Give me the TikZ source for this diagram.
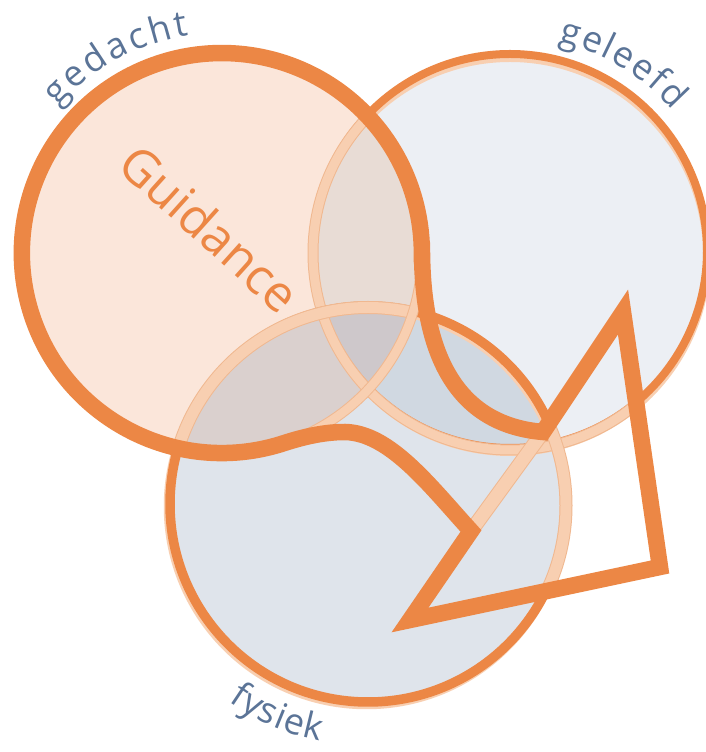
\documentclass[tikz,border=0pt]{standalone}
\usepackage{fontspec}
\setmainfont{Open Sans}
\definecolor{org}{HTML}{EC8745}
\definecolor{pch}{HTML}{F8CFB1}
\definecolor{pchd}{HTML}{F0B890}
\definecolor{fA}{HTML}{FBE6DA}
\definecolor{fB}{HTML}{ECEFF4}
\definecolor{fC}{HTML}{DFE4EB}
\definecolor{fAB}{HTML}{E8DCD5}
\definecolor{fAC}{HTML}{DAD0CE}
\definecolor{fBC}{HTML}{D0D8E1}
\definecolor{fABC}{HTML}{CEC8CB}
\definecolor{lbl}{HTML}{5B7497}
\newcommand\PA{(222,499) circle[radius=200]}
\newcommand\PB{(510,501) circle[radius=197]}
\newcommand\PC{(368,248) circle[radius=198]}
\newcommand\PArrow{(543,320) -- (471,221) -- (410,132) -- (660,185) -- (623,440) -- cycle}
\begin{document}
\begin{tikzpicture}[x=1pt,y=1pt,
  orangering/.style={draw=org},
  shadowring/.style={draw=pch},
  peachedge/.style={draw=pchd},
  peachring/.style={draw=pch},
  logo/.style={draw=org, line width=16.5, line join=miter, miter limit=10},
  curvelbl/.style={text=lbl, font=\fontsize{36}{40}\selectfont, inner sep=0pt, anchor=base},
  guide/.style={text=org, font=\fontsize{50}{60}\selectfont, inner sep=0pt}]
\useasboundingbox (0,0) rectangle (706,752);
\fill[white] (0,0) rectangle (706,752);
\coordinate (cA) at (222,499);
\coordinate (cB) at (510,501);
\coordinate (cC) at (368,248);
% fills
\fill[fA] \PA;
\fill[fB] \PB;
\fill[fC] \PC;
\begin{scope}\clip \PA; \fill[fAB] \PB; \end{scope}
\begin{scope}\clip \PA; \fill[fAC] \PC; \end{scope}
\begin{scope}\clip \PB; \fill[fBC] \PC; \end{scope}
\begin{scope}\clip \PA; \clip \PB; \fill[fABC] \PC; \end{scope}
% ring B
\draw[shadowring, line width=8] ([yshift=-4pt]cB) circle[radius=197];
\draw[orangering, line width=8] (cB) circle[radius=197];
\begin{scope}
  \clip (222,499) circle[radius=200] (368,248) circle[radius=198] \PArrow;
  \draw[peachedge, line width=11] ([yshift=-2pt]cB) circle[radius=197];
  \draw[peachring, line width=9] ([yshift=-2pt]cB) circle[radius=197];
\end{scope}
% ring C
\draw[shadowring, line width=9.5] ([shift={(-1.5pt,-2.5pt)}]cC) circle[radius=198];
\draw[orangering, line width=9.5] (cC) circle[radius=198];
\begin{scope}
  \clip (222,499) circle[radius=200] \PArrow;
  \draw[peachedge, line width=13] ([yshift=-1.5pt]cC) circle[radius=198];
  \draw[peachring, line width=11] ([yshift=-1.5pt]cC) circle[radius=198];
\end{scope}
% ring A (peach, visible inside B and C)
\draw[peachedge, line width=10.5] (cA) circle[radius=200];
\draw[peachring, line width=8.5] (cA) circle[radius=200];
% closing side of the arrow
\coordinate (v1) at (543,320);
\coordinate (v5) at (471,221);
\draw[peachedge, line width=15] (v1) -- (v5);
\draw[peachring, line width=13] (v1) -- (v5);
% logo outline
\draw[logo] (422,499) .. controls (423,392) and (460,327) .. (v1)
  -- (623,440) -- (660,185) -- (410,132) -- (v5)
  .. controls (430,266) and (390,319) .. (345,320)
  .. controls (325,320) and (305,315.6) .. (285,309.2)
  arc[start angle=-71.6, end angle=-360, radius=200] -- cycle;
% Guidance
\node[guide, rotate=-42] (guid) at (210,524) {Guidance};
% curved labels
\foreach \ch/\ang [count=\i] in {g/135.67, e/129.7, d/123.41, a/117.15, c/111.53, h/105.65, t/100.38}
  \node[curvelbl, rotate=\ang-90] (ged\i) at ([shift={(\ang:220)}]cA) {\ch};
\foreach \ch/\ang [count=\i] in {g/74.46, e/68.61, l/64.17, e/59.73, e/53.82, f/48.97, d/43.86}
  \node[curvelbl, rotate=\ang-90] (gel\i) at ([shift={(\ang:215)}]cB) {\ch};
\foreach \ch/\ang [count=\i] in {f/236.18, y/240.0, s/244.4, i/247.75, e/251.46, k/256.32}
  \node[curvelbl, rotate=\ang+90] (fys\i) at ([shift={(\ang:242)}]cC) {\ch};
\end{tikzpicture}
\end{document}
